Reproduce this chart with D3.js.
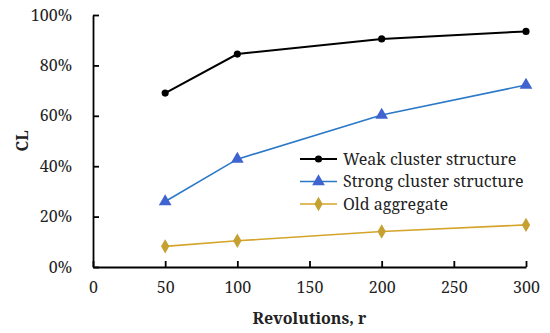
<!DOCTYPE html>
<html>
<head>
<meta charset="utf-8">
<script src="https://cdn.jsdelivr.net/npm/d3@7"></script>
<style>
  body { margin: 0; background: #fff; }
</style>
</head>
<body>
<div id="chart"></div>
<script>
const revolutions = [50, 100, 200, 300];
const weak = [0.69, 0.845, 0.905, 0.935];
const strong = [0.26, 0.428, 0.603, 0.722];
const oldAgg = [0.082, 0.104, 0.141, 0.167];
const xTicks = [0, 50, 100, 150, 200, 250, 300];
const yTicks = [0, 0.2, 0.4, 0.6, 0.8, 1.0];

const FONT = "'Noto Serif', 'Liberation Serif', serif";
const width = 550, height = 333;
const margin = { top: 15, right: 24, bottom: 66, left: 93 };

const svg = d3.select("#chart").append("svg")
    .attr("width", width)
    .attr("height", height)
    .attr("font-family", FONT);

const x = d3.scaleLinear().domain([0, 300]).range([margin.left, width - margin.right]);
const y = d3.scaleLinear().domain([0, 1]).range([height - margin.bottom, margin.top]);

// axes, ticks pointing inward
const xAxis = svg.append("g")
    .attr("transform", `translate(0,${y(0)})`)
    .call(d3.axisBottom(x).tickValues(xTicks).tickSize(-6).tickPadding(15).tickSizeOuter(0));
const yAxis = svg.append("g")
    .attr("transform", `translate(${x(0)},0)`)
    .call(d3.axisLeft(y).tickValues(yTicks).tickSize(-6).tickPadding(21).tickSizeOuter(0)
        .tickFormat(d3.format(".0%")));

[xAxis, yAxis].forEach(g => {
    g.attr("font-family", FONT).attr("font-size", 16);
    g.select(".domain").attr("stroke", "#000").attr("stroke-width", 1.8);
    g.selectAll(".tick line").attr("stroke", "#000").attr("stroke-width", 1.8);
    g.selectAll(".tick text").attr("fill", "#222").attr("font-family", FONT);
});

svg.append("text")
    .attr("x", (x(0) + x(300)) / 2)
    .attr("y", 324)
    .attr("text-anchor", "middle")
    .attr("font-family", FONT)
    .attr("font-size", 16)
    .attr("font-weight", "bold")
    .attr("fill", "#222")
    .text("Revolutions, r");

svg.append("text")
    .attr("transform", `translate(28,${(y(0) + y(1)) / 2}) rotate(-90)`)
    .attr("text-anchor", "middle")
    .attr("font-family", FONT)
    .attr("font-size", 16)
    .attr("font-weight", "bold")
    .attr("fill", "#222")
    .text("CL");

const series = [
    { name: "Weak cluster structure", values: weak, line: "#000", fill: "#000", shape: d3.symbolCircle, size: 40, lw: 2 },
    { name: "Strong cluster structure", values: strong, line: "#2a78c8", fill: "#3f63cf", shape: d3.symbolTriangle, size: 70, lw: 1.6 },
    { name: "Old aggregate", values: oldAgg, line: "#d4a52a", fill: "#c4a130", shape: d3.symbolDiamond, size: 60, lw: 1.6 }
];

const line = d3.line().x(d => x(d[0])).y(d => y(d[1]));

series.forEach(s => {
    const pts = revolutions.map((r, i) => [r, s.values[i]]);
    svg.append("path")
        .datum(pts)
        .attr("fill", "none")
        .attr("stroke", s.line)
        .attr("stroke-width", s.lw)
        .attr("d", line);
    svg.selectAll(null)
        .data(pts)
        .enter()
        .append("path")
        .attr("transform", d => `translate(${x(d[0])},${y(d[1])})`)
        .attr("d", d3.symbol().type(s.shape).size(s.size))
        .attr("fill", s.fill);
});

// legend
const legend = svg.append("g").attr("transform", "translate(300,159)");
series.forEach((s, i) => {
    const g = legend.append("g").attr("transform", `translate(0,${i * 22.5})`);
    g.append("line").attr("x1", 0).attr("x2", 37).attr("y1", 0).attr("y2", 0)
        .attr("stroke", s.line).attr("stroke-width", s.lw);
    g.append("path").attr("transform", "translate(18.5,0)")
        .attr("d", d3.symbol().type(s.shape).size(s.size)).attr("fill", s.fill);
    g.append("text").attr("x", 43).attr("y", 0).attr("dy", "0.35em")
        .attr("font-family", FONT)
        .attr("font-size", 16).attr("fill", "#222").text(s.name);
});
</script>
</body>
</html>
